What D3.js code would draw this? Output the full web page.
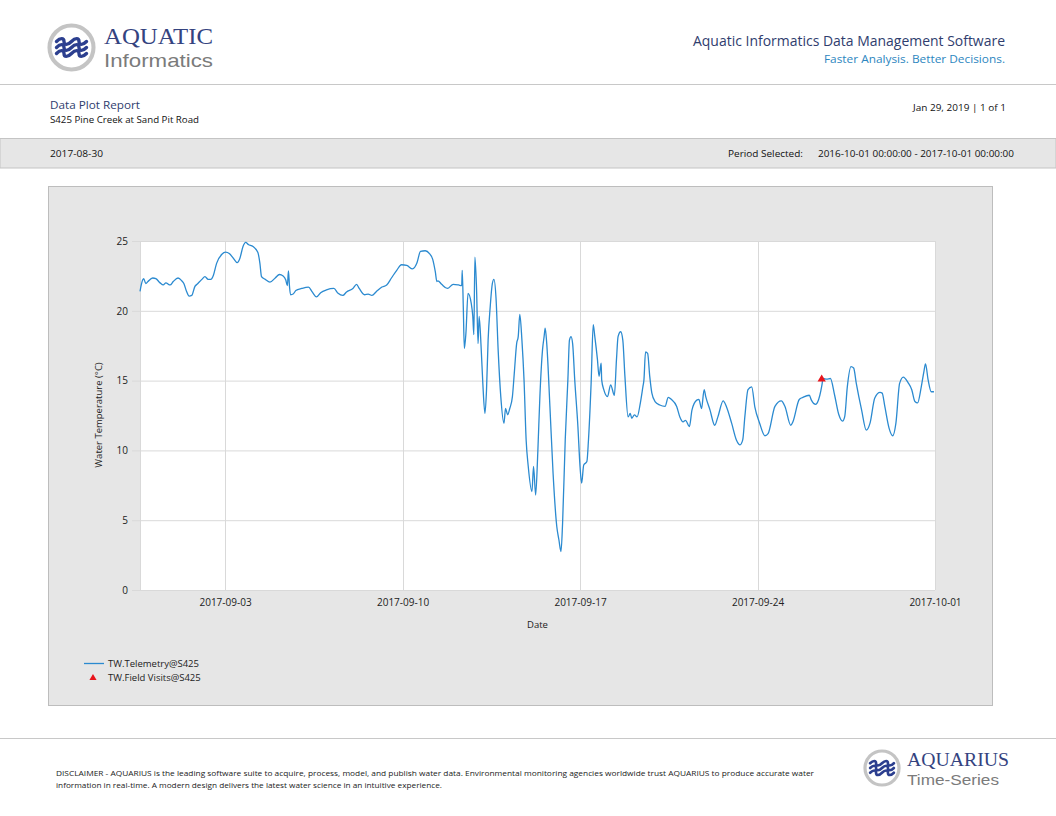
<!DOCTYPE html>
<html lang="en">
<head>
    <meta charset="UTF-8">
    <title>Data Plot Report</title>
    <script src="https://cdn.jsdelivr.net/npm/d3@7"></script>
    <style>
        body{
            margin: 0;
            background: #ffffff;
        }
        svg text{
            font-family: "Open Sans", "DejaVu Sans", sans-serif;
        }
        .grid line{
            stroke: #d9d9d9;
            stroke-width: 1;
        }
    </style>
</head>
<body>
<svg id="page" width="1056" height="816"></svg>

<script>
    // telemetry readings, TW.Telemetry@S425
    const telemetryTimes = [
        "2017-08-30 15:30","2017-08-30 18:00","2017-08-30 19:00","2017-08-30 21:00","2017-08-30 23:00",
        "2017-08-31 03:30","2017-08-31 06:30","2017-08-31 10:30","2017-08-31 13:30","2017-08-31 16:00",
        "2017-08-31 20:00","2017-08-31 23:00","2017-09-01 03:30","2017-09-01 07:00","2017-09-01 09:00",
        "2017-09-01 11:30","2017-09-01 14:00","2017-09-01 16:30","2017-09-01 19:30","2017-09-01 21:30",
        "2017-09-02 02:00","2017-09-02 05:00","2017-09-02 08:00","2017-09-02 10:30","2017-09-02 13:00",
        "2017-09-02 16:00","2017-09-02 21:00","2017-09-03 00:30","2017-09-03 04:00","2017-09-03 08:00",
        "2017-09-03 11:30","2017-09-03 14:00","2017-09-03 17:00","2017-09-03 19:30","2017-09-03 22:00",
        "2017-09-04 02:30","2017-09-04 07:00","2017-09-04 09:00","2017-09-04 10:30","2017-09-04 14:00",
        "2017-09-04 18:30","2017-09-04 23:30","2017-09-05 03:30","2017-09-05 07:00","2017-09-05 09:30",
        "2017-09-05 11:00","2017-09-05 12:00","2017-09-05 13:00","2017-09-05 14:00","2017-09-05 16:30",
        "2017-09-05 19:00","2017-09-06 00:30","2017-09-06 07:00","2017-09-06 10:30","2017-09-06 14:30",
        "2017-09-06 18:30","2017-09-07 00:00","2017-09-07 07:00","2017-09-07 11:00","2017-09-07 15:30",
        "2017-09-07 19:00","2017-09-08 01:00","2017-09-08 04:30","2017-09-08 07:00","2017-09-08 12:00",
        "2017-09-08 15:30","2017-09-08 19:00","2017-09-08 23:30","2017-09-09 04:30","2017-09-09 09:00",
        "2017-09-09 13:30","2017-09-09 18:30","2017-09-09 23:00","2017-09-10 04:00","2017-09-10 09:30",
        "2017-09-10 13:30","2017-09-10 17:00","2017-09-10 21:30","2017-09-11 01:30","2017-09-11 04:30",
        "2017-09-11 07:00","2017-09-11 08:30","2017-09-11 09:30","2017-09-11 13:00","2017-09-11 18:30",
        "2017-09-12 00:00","2017-09-12 05:00","2017-09-12 08:00","2017-09-12 08:30","2017-09-12 09:30",
        "2017-09-12 10:30","2017-09-12 12:00","2017-09-12 14:00","2017-09-12 17:00","2017-09-12 18:30",
        "2017-09-12 19:30","2017-09-12 20:30","2017-09-12 22:00","2017-09-12 23:30","2017-09-13 00:30",
        "2017-09-13 02:30","2017-09-13 04:00","2017-09-13 06:00","2017-09-13 07:30","2017-09-13 09:00",
        "2017-09-13 11:00","2017-09-13 13:00","2017-09-13 14:30","2017-09-13 16:30","2017-09-13 18:30",
        "2017-09-13 21:00","2017-09-14 00:00","2017-09-14 01:30","2017-09-14 03:30","2017-09-14 05:30",
        "2017-09-14 08:00","2017-09-14 10:00","2017-09-14 12:00","2017-09-14 13:30","2017-09-14 15:00",
        "2017-09-14 17:00","2017-09-14 19:00","2017-09-14 21:00","2017-09-14 23:00","2017-09-15 02:30",
        "2017-09-15 04:00","2017-09-15 06:00","2017-09-15 08:00","2017-09-15 10:00","2017-09-15 12:30",
        "2017-09-15 14:00","2017-09-15 15:00","2017-09-15 16:30","2017-09-15 19:30","2017-09-15 22:30",
        "2017-09-16 02:00","2017-09-16 04:00","2017-09-16 06:00","2017-09-16 07:30","2017-09-16 10:00",
        "2017-09-16 12:30","2017-09-16 14:00","2017-09-16 15:30","2017-09-16 17:00","2017-09-16 19:00",
        "2017-09-16 22:00","2017-09-17 00:00","2017-09-17 01:30","2017-09-17 03:30","2017-09-17 06:30",
        "2017-09-17 08:00","2017-09-17 10:30","2017-09-17 12:30","2017-09-17 14:00","2017-09-17 16:30",
        "2017-09-17 18:00","2017-09-17 20:00","2017-09-17 20:30","2017-09-17 22:30","2017-09-18 02:00",
        "2017-09-18 05:00","2017-09-18 08:30","2017-09-18 10:30","2017-09-18 12:00","2017-09-18 14:30",
        "2017-09-18 16:30","2017-09-18 18:30","2017-09-18 21:30","2017-09-18 23:30","2017-09-19 01:00",
        "2017-09-19 03:30","2017-09-19 06:00","2017-09-19 09:00","2017-09-19 11:30","2017-09-19 12:30",
        "2017-09-19 14:00","2017-09-19 16:00","2017-09-19 18:00","2017-09-19 20:00","2017-09-19 23:00",
        "2017-09-20 03:30","2017-09-20 08:30","2017-09-20 11:30","2017-09-20 14:30","2017-09-20 19:30",
        "2017-09-20 22:30","2017-09-21 01:30","2017-09-21 04:00","2017-09-21 07:30","2017-09-21 10:00",
        "2017-09-21 14:30","2017-09-21 16:30","2017-09-21 19:00","2017-09-21 21:30","2017-09-21 23:00",
        "2017-09-22 03:00","2017-09-22 07:30","2017-09-22 10:30","2017-09-22 15:30","2017-09-22 18:30",
        "2017-09-22 23:30","2017-09-23 04:00","2017-09-23 07:30","2017-09-23 10:00","2017-09-23 12:00",
        "2017-09-23 15:00","2017-09-23 18:30","2017-09-23 21:30","2017-09-24 02:00","2017-09-24 07:00",
        "2017-09-24 10:00","2017-09-24 16:30","2017-09-24 22:30","2017-09-25 02:00","2017-09-25 07:30",
        "2017-09-25 09:30","2017-09-25 15:30","2017-09-25 19:00","2017-09-26 01:00","2017-09-26 03:00",
        "2017-09-26 07:00","2017-09-26 11:00","2017-09-26 13:00","2017-09-26 14:00","2017-09-26 17:30",
        "2017-09-26 21:00","2017-09-27 01:00","2017-09-27 05:00","2017-09-27 08:30","2017-09-27 10:30",
        "2017-09-27 13:00","2017-09-27 16:30","2017-09-27 19:00","2017-09-27 21:30","2017-09-28 02:30",
        "2017-09-28 07:00","2017-09-28 10:30","2017-09-28 15:00","2017-09-28 20:00","2017-09-28 22:00",
        "2017-09-29 00:30","2017-09-29 04:30","2017-09-29 08:00","2017-09-29 11:00","2017-09-29 14:30",
        "2017-09-29 18:00","2017-09-29 22:30","2017-09-30 02:00","2017-09-30 05:00","2017-09-30 07:30",
        "2017-09-30 11:00","2017-09-30 13:30","2017-09-30 15:00","2017-09-30 17:30","2017-09-30 20:30",
        "2017-09-30 23:00"
    ];
    const telemetryTemps = [
        21.4, 22.2, 22.3, 21.95, 22.1,
        22.35, 22.3, 22.0, 21.85, 22.0,
        21.85, 22.1, 22.35, 22.15, 21.95,
        21.4, 21.05, 21.1, 21.75, 21.9,
        22.25, 22.45, 22.25, 22.25, 22.55,
        23.4, 24.05, 24.2, 24.1, 23.75,
        23.45, 23.75, 24.6, 24.9, 24.75,
        24.6, 24.2, 23.4, 22.45, 22.25,
        22.05, 22.35, 22.6, 22.5, 22.2,
        21.8, 22.85, 21.75, 21.15, 21.2,
        21.45, 21.6, 21.7, 21.35, 21.0,
        21.3, 21.5, 21.6, 21.25, 21.1,
        21.35, 21.6, 21.9, 21.6, 21.15,
        21.2, 21.1, 21.4, 21.7, 21.85,
        22.35, 22.9, 23.3, 23.25, 23.0,
        23.4, 24.25, 24.3, 24.1, 23.7,
        22.8, 22.1, 22.15, 21.9, 21.6,
        21.9, 21.85, 21.8, 22.9, 20.3,
        17.3, 18.4, 21.25, 20.55, 19.6,
        18.3, 23.85, 21.7, 17.65, 19.6,
        17.2, 14.8, 12.65, 14.35, 17.9,
        20.3, 21.95, 22.25, 20.9, 17.2,
        13.85, 11.95, 13.0, 12.55, 13.0,
        13.85, 15.75, 17.65, 18.15, 19.75,
        17.9, 15.05, 10.75, 8.85, 7.05,
        8.85, 6.8, 9.8, 13.85, 17.2,
        18.15, 18.75, 17.65, 13.15, 8.35,
        4.55, 3.6, 2.75, 4.8, 10.75,
        15.05, 17.9, 18.15, 17.65, 15.05,
        11.7, 8.85, 7.65, 8.95, 9.2,
        10.75, 14.8, 19.0, 18.15, 16.5,
        15.3, 16.25, 15.05, 14.35, 13.85,
        14.7, 13.95, 16.5, 18.15, 18.5,
        17.9, 15.3, 12.4, 12.65, 12.3,
        12.55, 12.4, 13.35, 14.55, 15.05,
        17.05, 16.95, 15.3, 14.1, 13.5,
        13.25, 13.15, 13.8, 13.65, 13.15,
        12.4, 12.05, 12.15, 11.7, 12.9,
        13.6, 13.65, 13.0, 14.35, 13.85,
        12.9, 11.8, 12.4, 13.55, 13.15,
        11.95, 10.75, 10.4, 10.75, 12.4,
        14.35, 14.55, 13.1, 11.95, 11.05,
        11.2, 13.15, 13.55, 13.15, 11.8,
        12.05, 13.65, 13.8, 13.95, 13.6,
        13.3, 13.95, 14.7, 15.15, 15.1,
        15.15, 13.95, 12.55, 12.1, 12.4,
        14.55, 16.0, 15.9, 14.8, 12.9,
        11.45, 11.95, 13.75, 14.15, 14.1,
        13.15, 11.6, 11.05, 11.95, 14.8,
        15.25, 14.85, 14.35, 13.5, 13.4,
        14.55, 15.65, 16.2, 15.05, 14.2,
        14.2
    ];

    // field visit reading, TW.Field Visits@S425
    const visitTimes = ["2017-09-26 12:45"];
    const visitTemps = [15.1];

    // axes
    const xDomain = ["2017-08-30 15:30", "2017-10-01 00:00"];
    const xTickLabels = ["2017-09-03", "2017-09-10", "2017-09-17", "2017-09-24", "2017-10-01"];
    const yTicks = [0, 5, 10, 15, 20, 25];

    const legendNames = ["TW.Telemetry@S425", "TW.Field Visits@S425"];

    const parseTime = d3.timeParse("%Y-%m-%d %H:%M");
    const parseDay = d3.timeParse("%Y-%m-%d");

    const navy = "#34437f";
    const lineBlue = "#2b8ad0";

    let svg = d3.select("#page");

    // ---------- header ----------
    function drawLogo(g, cx, cy, r){
        g.append("circle").attr("cx", cx).attr("cy", cy).attr("r", r - 2)
            .attr("fill", "#ffffff").attr("stroke", "#c4c4c4").attr("stroke-width", r * 0.17);
        let w = r * 1.25, amp = r * 0.08;
        for (let i = -1; i <= 1; i++) {
            let y0 = cy + i * r * 0.25;
            let p = d3.path();
            p.moveTo(cx - w / 2, y0);
            let steps = 2, seg = w / steps;
            for (let k = 0; k < steps; k++) {
                let x0 = cx - w / 2 + k * seg;
                p.bezierCurveTo(x0 + seg * 0.25, y0 - amp * 2, x0 + seg * 0.5, y0 - amp * 2, x0 + seg * 0.5, y0);
                p.bezierCurveTo(x0 + seg * 0.5, y0 + amp * 2, x0 + seg * 0.75, y0 + amp * 2, x0 + seg, y0);
            }
            g.append("path").attr("d", p.toString())
                .attr("fill", "none").attr("stroke", "#2c3f8f")
                .attr("stroke-width", r * 0.14).attr("stroke-linecap", "round");
        }
    }

    // logo words: serif name above, grey sans line below
    function logoText(x0, top, bottom){
        svg.append("text").attr("x", x0).attr("y", top.y)
            .style("font-family", "'Liberation Serif', serif").style("font-size", top.size + "px")
            .attr("fill", navy).attr("textLength", top.width).attr("lengthAdjust", "spacingAndGlyphs")
            .text(top.text);
        svg.append("text").attr("x", x0).attr("y", bottom.y)
            .style("font-family", "'Liberation Sans', sans-serif").style("font-size", bottom.size + "px")
            .attr("fill", "#7b7b7b")
            .attr("textLength", bottom.width).attr("lengthAdjust", "spacingAndGlyphs")
            .text(bottom.text);
    }

    drawLogo(svg.append("g"), 71.5, 47.5, 24);
    logoText(104, {text: "AQUATIC", size: 23, width: 109, y: 44},
        {text: "Informatics", size: 19, width: 109, y: 66.5});

    svg.append("text").attr("x", 1005).attr("y", 46).attr("text-anchor", "end")
        .style("font-size", "14px").attr("fill", "#2f3d6e")
        .attr("textLength", 312).attr("lengthAdjust", "spacingAndGlyphs")
        .text("Aquatic Informatics Data Management Software");
    svg.append("text").attr("x", 1005).attr("y", 63).attr("text-anchor", "end")
        .style("font-size", "11px").attr("fill", "#2c86c0")
        .attr("textLength", 181).attr("lengthAdjust", "spacingAndGlyphs")
        .text("Faster Analysis. Better Decisions.");

    svg.append("line").attr("x1", 0).attr("x2", 1056).attr("y1", 84.5).attr("y2", 84.5)
        .attr("stroke", "#c8c8c8");

    svg.append("text").attr("x", 50).attr("y", 109)
        .style("font-size", "11.5px").attr("fill", "#2f3d6e")
        .attr("textLength", 90).attr("lengthAdjust", "spacingAndGlyphs")
        .text("Data Plot Report");
    svg.append("text").attr("x", 50).attr("y", 123)
        .style("font-size", "9px").attr("fill", "#111")
        .attr("textLength", 149).attr("lengthAdjust", "spacingAndGlyphs")
        .text("S425 Pine Creek at Sand Pit Road");
    svg.append("text").attr("x", 1006).attr("y", 111).attr("text-anchor", "end")
        .style("font-size", "9px").attr("fill", "#111")
        .attr("textLength", 93).attr("lengthAdjust", "spacingAndGlyphs")
        .text("Jan 29, 2019 | 1 of 1");

    // grey band
    svg.append("rect").attr("x", 0).attr("y", 138.5).attr("width", 1056).attr("height", 29.5)
        .attr("fill", "#e6e6e6").attr("stroke", "#c4c4c4");
    svg.append("text").attr("x", 50).attr("y", 157)
        .style("font-size", "9px").attr("fill", "#111")
        .attr("textLength", 53).attr("lengthAdjust", "spacingAndGlyphs")
        .text("2017-08-30");
    svg.append("text").attr("x", 728).attr("y", 157)
        .style("font-size", "9px").attr("fill", "#111")
        .attr("textLength", 75).attr("lengthAdjust", "spacingAndGlyphs")
        .text("Period Selected:");
    svg.append("text").attr("x", 818).attr("y", 157)
        .style("font-size", "9px").attr("fill", "#111")
        .attr("textLength", 196).attr("lengthAdjust", "spacingAndGlyphs")
        .text("2016-10-01 00:00:00 - 2017-10-01 00:00:00");

    // ---------- chart ----------
    svg.append("rect").attr("x", 48.5).attr("y", 186.5).attr("width", 944).attr("height", 519)
        .attr("fill", "#e6e6e6").attr("stroke", "#bdbdbd");

    let margin = {left: 140, top: 241, right: 935, bottom: 590};

    let x = d3.scaleTime()
        .domain(xDomain.map(parseTime))
        .range([margin.left, margin.right]);
    let y = d3.scaleLinear()
        .domain([0, 25])
        .range([margin.bottom, margin.top]);

    svg.append("rect").attr("x", margin.left).attr("y", margin.top)
        .attr("width", margin.right - margin.left).attr("height", margin.bottom - margin.top)
        .attr("fill", "#ffffff");

    let tickDates = xTickLabels.map(parseDay);

    // vertical grid
    svg.append("g").attr("class", "grid")
        .selectAll("line").data([x.domain()[0]].concat(tickDates)).join("line")
        .attr("x1", d => Math.round(x(d)) + 0.5).attr("x2", d => Math.round(x(d)) + 0.5)
        .attr("y1", margin.top).attr("y2", margin.bottom);

    // y axis with grid lines
    let yAxis = svg.append("g")
        .attr("transform", `translate(${margin.left},0)`)
        .call(d3.axisLeft(y).tickValues(yTicks)
            .tickSize(-(margin.right - margin.left) - 8)
            .tickPadding(4))
        .call(g => g.select(".domain").remove());
    yAxis.selectAll(".tick line").attr("stroke", "#d9d9d9").attr("x1", -8)
        .attr("x2", margin.right - margin.left);
    yAxis.selectAll(".tick text").attr("x", -12).attr("fill", "#222")
        .style("font-size", "10px").style("font-family", "'Open Sans', sans-serif");

    // x axis labels
    let xAxis = svg.append("g")
        .attr("transform", `translate(0,${margin.bottom})`)
        .call(d3.axisBottom(x).tickValues(tickDates)
            .tickFormat(d3.timeFormat("%Y-%m-%d")).tickSize(0).tickPadding(9))
        .call(g => g.select(".domain").remove());
    xAxis.selectAll(".tick text").attr("fill", "#222")
        .style("font-size", "10px").style("font-family", "'Open Sans', sans-serif");

    svg.append("text").attr("x", (margin.left + margin.right) / 2).attr("y", 628)
        .attr("text-anchor", "middle").style("font-size", "9.5px").attr("fill", "#222")
        .text("Date");
    svg.append("text")
        .attr("transform", `translate(102,415) rotate(-90)`)
        .attr("text-anchor", "middle").style("font-size", "9.5px").attr("fill", "#222")
        .text("Water Temperature (\u00B0C)");

    // telemetry line
    let series = telemetryTimes.map((t, i) => ({t: parseTime(t), v: telemetryTemps[i]}));
    let line = d3.line()
        .x(d => x(d.t))
        .y(d => y(d.v))
        .curve(d3.curveMonotoneX);
    svg.append("path").datum(series)
        .attr("d", line)
        .attr("fill", "none")
        .attr("stroke", lineBlue)
        .attr("stroke-width", 1.3)
        .attr("stroke-linejoin", "round");

    // field visits
    let tri = d3.symbol().type(d3.symbolTriangle).size(30);
    svg.append("g").selectAll("path")
        .data(visitTimes.map((t, i) => ({t: parseTime(t), v: visitTemps[i]})))
        .join("path")
        .attr("d", tri)
        .attr("transform", d => `translate(${x(d.t)},${y(d.v)})`)
        .attr("fill", "#e8141c");

    // legend
    let legend = svg.append("g");
    legend.append("line").attr("x1", 84).attr("x2", 104).attr("y1", 663.5).attr("y2", 663.5)
        .attr("stroke", lineBlue).attr("stroke-width", 1.3);
    legend.append("path").attr("d", d3.symbol().type(d3.symbolTriangle).size(22))
        .attr("transform", "translate(93,678)").attr("fill", "#e8141c");
    legend.selectAll("text").data(legendNames).join("text")
        .attr("x", 108).attr("y", (d, i) => 667 + i * 14)
        .style("font-size", "9.5px").attr("fill", "#222")
        .text(d => d);

    // ---------- footer ----------
    svg.append("line").attr("x1", 0).attr("x2", 1056).attr("y1", 738.5).attr("y2", 738.5)
        .attr("stroke", "#c8c8c8");
    svg.append("text").attr("x", 56).attr("y", 776)
        .style("font-size", "7.5px").attr("fill", "#222")
        .attr("textLength", 758).attr("lengthAdjust", "spacingAndGlyphs")
        .text("DISCLAIMER - AQUARIUS is the leading software suite to acquire, process, model, and publish water data. Environmental monitoring agencies worldwide trust AQUARIUS to produce accurate water");
    svg.append("text").attr("x", 56).attr("y", 788)
        .style("font-size", "7.5px").attr("fill", "#222")
        .attr("textLength", 386).attr("lengthAdjust", "spacingAndGlyphs")
        .text("information in real-time. A modern design delivers the latest water science in an intuitive experience.");

    drawLogo(svg.append("g"), 882, 768, 19);
    logoText(907, {text: "AQUARIUS", size: 19, width: 102, y: 766},
        {text: "Time-Series", size: 15, width: 92, y: 784.5});
</script>
</body>
</html>
